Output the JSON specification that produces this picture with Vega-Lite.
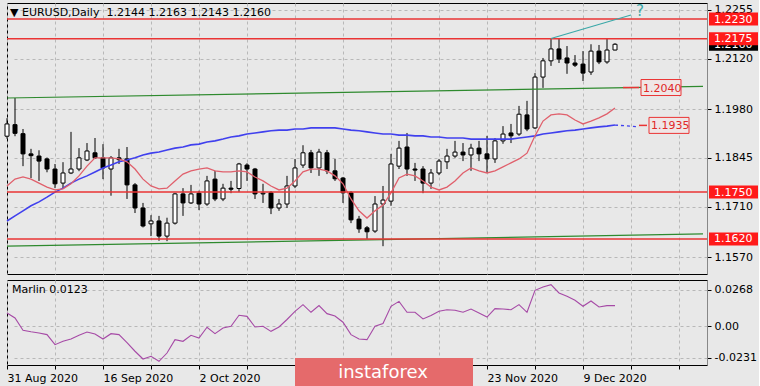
{
"$schema": "https://vega.github.io/schema/vega-lite/v6.json",
"background": "#e8e8e8",
"padding": {"left": 3, "top": 2, "right": 0, "bottom": 0},
"spacing": 4,
"datasets": {
"bars": [
{"d":"31 Aug 2020","o":1.1905,"h":1.1955,"l":1.1898,"c":1.1939,"ma":1.1767,"sma":1.1670,"mar":0.0098},
{"d":"1 Sep 2020","o":1.1937,"h":1.2011,"l":1.1905,"c":1.1913,"ma":1.1786,"sma":1.1684,"mar":0.0061},
{"d":"2 Sep 2020","o":1.1912,"h":1.1925,"l":1.1822,"c":1.1856,"ma":1.1792,"sma":1.1698,"mar":-0.0029},
{"d":"3 Sep 2020","o":1.1856,"h":1.1870,"l":1.1789,"c":1.1851,"ma":1.1786,"sma":1.1712,"mar":-0.0040},
{"d":"4 Sep 2020","o":1.1850,"h":1.1866,"l":1.1781,"c":1.1836,"ma":1.1775,"sma":1.1723,"mar":-0.0049},
{"d":"7 Sep 2020","o":1.1842,"h":1.1846,"l":1.1805,"c":1.1814,"ma":1.1764,"sma":1.1736,"mar":-0.0061},
{"d":"8 Sep 2020","o":1.1814,"h":1.1828,"l":1.1761,"c":1.1773,"ma":1.1756,"sma":1.1750,"mar":-0.0135},
{"d":"9 Sep 2020","o":1.1775,"h":1.1833,"l":1.1759,"c":1.1803,"ma":1.1759,"sma":1.1761,"mar":-0.0110},
{"d":"10 Sep 2020","o":1.1803,"h":1.1917,"l":1.1800,"c":1.1814,"ma":1.1773,"sma":1.1775,"mar":-0.0093},
{"d":"11 Sep 2020","o":1.1814,"h":1.1872,"l":1.1808,"c":1.1845,"ma":1.1795,"sma":1.1786,"mar":-0.0065},
{"d":"14 Sep 2020","o":1.1839,"h":1.1886,"l":1.1836,"c":1.1864,"ma":1.1822,"sma":1.1795,"mar":-0.0042},
{"d":"15 Sep 2020","o":1.1859,"h":1.1900,"l":1.1842,"c":1.1845,"ma":1.1845,"sma":1.1806,"mar":-0.0056},
{"d":"16 Sep 2020","o":1.1845,"h":1.1883,"l":1.1786,"c":1.1817,"ma":1.1845,"sma":1.1817,"mar":-0.0093},
{"d":"17 Sep 2020","o":1.1814,"h":1.1850,"l":1.1740,"c":1.1845,"ma":1.1845,"sma":1.1825,"mar":-0.0054},
{"d":"18 Sep 2020","o":1.1845,"h":1.1870,"l":1.1828,"c":1.1840,"ma":1.1842,"sma":1.1834,"mar":-0.0061},
{"d":"21 Sep 2020","o":1.1842,"h":1.1875,"l":1.1731,"c":1.1770,"ma":1.1834,"sma":1.1839,"mar":-0.0120},
{"d":"22 Sep 2020","o":1.1770,"h":1.1775,"l":1.1692,"c":1.1706,"ma":1.1814,"sma":1.1845,"mar":-0.0183},
{"d":"23 Sep 2020","o":1.1706,"h":1.1720,"l":1.1652,"c":1.1656,"ma":1.1786,"sma":1.1853,"mar":-0.0240},
{"d":"24 Sep 2020","o":1.1662,"h":1.1686,"l":1.1628,"c":1.1670,"ma":1.1767,"sma":1.1858,"mar":-0.0220},
{"d":"25 Sep 2020","o":1.1670,"h":1.1684,"l":1.1615,"c":1.1628,"ma":1.1759,"sma":1.1861,"mar":-0.0257},
{"d":"28 Sep 2020","o":1.1628,"h":1.1679,"l":1.1614,"c":1.1664,"ma":1.1761,"sma":1.1867,"mar":-0.0196},
{"d":"29 Sep 2020","o":1.1664,"h":1.1748,"l":1.1660,"c":1.1745,"ma":1.1781,"sma":1.1872,"mar":-0.0098},
{"d":"30 Sep 2020","o":1.1745,"h":1.1761,"l":1.1684,"c":1.1720,"ma":1.1800,"sma":1.1875,"mar":-0.0110},
{"d":"1 Oct 2020","o":1.1720,"h":1.1770,"l":1.1717,"c":1.1745,"ma":1.1809,"sma":1.1881,"mar":-0.0066},
{"d":"2 Oct 2020","o":1.1747,"h":1.1754,"l":1.1700,"c":1.1717,"ma":1.1814,"sma":1.1883,"mar":-0.0086},
{"d":"5 Oct 2020","o":1.1717,"h":1.1795,"l":1.1712,"c":1.1781,"ma":1.1817,"sma":1.1889,"mar":-0.0007},
{"d":"6 Oct 2020","o":1.1786,"h":1.1809,"l":1.1725,"c":1.1731,"ma":1.1809,"sma":1.1892,"mar":-0.0054},
{"d":"7 Oct 2020","o":1.1731,"h":1.1773,"l":1.1725,"c":1.1761,"ma":1.1806,"sma":1.1897,"mar":-0.0012},
{"d":"8 Oct 2020","o":1.1761,"h":1.1781,"l":1.1747,"c":1.1758,"ma":1.1806,"sma":1.1903,"mar":0.0000},
{"d":"9 Oct 2020","o":1.1760,"h":1.1831,"l":1.1750,"c":1.1828,"ma":1.1809,"sma":1.1906,"mar":0.0081},
{"d":"12 Oct 2020","o":1.1825,"h":1.1830,"l":1.1781,"c":1.1814,"ma":1.1806,"sma":1.1911,"mar":0.0073},
{"d":"13 Oct 2020","o":1.1814,"h":1.1817,"l":1.1731,"c":1.1745,"ma":1.1792,"sma":1.1914,"mar":-0.0005},
{"d":"14 Oct 2020","o":1.1745,"h":1.1773,"l":1.1720,"c":1.1747,"ma":1.1781,"sma":1.1917,"mar":0.0000},
{"d":"15 Oct 2020","o":1.1748,"h":1.1753,"l":1.1689,"c":1.1706,"ma":1.1767,"sma":1.1920,"mar":-0.0037},
{"d":"16 Oct 2020","o":1.1706,"h":1.1731,"l":1.1698,"c":1.1717,"ma":1.1756,"sma":1.1922,"mar":-0.0005},
{"d":"19 Oct 2020","o":1.1717,"h":1.1795,"l":1.1706,"c":1.1767,"ma":1.1761,"sma":1.1922,"mar":0.0050},
{"d":"20 Oct 2020","o":1.1767,"h":1.1842,"l":1.1761,"c":1.1817,"ma":1.1781,"sma":1.1925,"mar":0.0110},
{"d":"21 Oct 2020","o":1.1825,"h":1.1880,"l":1.1817,"c":1.1859,"ma":1.1806,"sma":1.1925,"mar":0.0159},
{"d":"22 Oct 2020","o":1.1859,"h":1.1867,"l":1.1803,"c":1.1817,"ma":1.1814,"sma":1.1928,"mar":0.0103},
{"d":"23 Oct 2020","o":1.1817,"h":1.1870,"l":1.1795,"c":1.1861,"ma":1.1814,"sma":1.1928,"mar":0.0152},
{"d":"26 Oct 2020","o":1.1859,"h":1.1867,"l":1.1800,"c":1.1809,"ma":1.1809,"sma":1.1928,"mar":0.0093},
{"d":"27 Oct 2020","o":1.1809,"h":1.1842,"l":1.1781,"c":1.1787,"ma":1.1795,"sma":1.1928,"mar":0.0075},
{"d":"28 Oct 2020","o":1.1789,"h":1.1792,"l":1.1720,"c":1.1748,"ma":1.1773,"sma":1.1925,"mar":0.0030},
{"d":"29 Oct 2020","o":1.1748,"h":1.1753,"l":1.1664,"c":1.1673,"ma":1.1731,"sma":1.1922,"mar":-0.0061},
{"d":"30 Oct 2020","o":1.1675,"h":1.1684,"l":1.1637,"c":1.1648,"ma":1.1698,"sma":1.1920,"mar":-0.0093},
{"d":"2 Nov 2020","o":1.1651,"h":1.1656,"l":1.1620,"c":1.1640,"ma":1.1678,"sma":1.1917,"mar":-0.0098},
{"d":"3 Nov 2020","o":1.1642,"h":1.1739,"l":1.1637,"c":1.1717,"ma":1.1698,"sma":1.1914,"mar":0.0000},
{"d":"4 Nov 2020","o":1.1717,"h":1.1767,"l":1.1600,"c":1.1728,"ma":1.1714,"sma":1.1911,"mar":0.0020},
{"d":"5 Nov 2020","o":1.1725,"h":1.1856,"l":1.1712,"c":1.1828,"ma":1.1748,"sma":1.1911,"mar":0.0147},
{"d":"6 Nov 2020","o":1.1822,"h":1.1892,"l":1.1814,"c":1.1872,"ma":1.1789,"sma":1.1908,"mar":0.0183},
{"d":"9 Nov 2020","o":1.1875,"h":1.1914,"l":1.1795,"c":1.1814,"ma":1.1800,"sma":1.1908,"mar":0.0103},
{"d":"10 Nov 2020","o":1.1814,"h":1.1831,"l":1.1781,"c":1.1811,"ma":1.1795,"sma":1.1906,"mar":0.0103},
{"d":"11 Nov 2020","o":1.1814,"h":1.1822,"l":1.1747,"c":1.1775,"ma":1.1781,"sma":1.1906,"mar":0.0054},
{"d":"12 Nov 2020","o":1.1775,"h":1.1814,"l":1.1759,"c":1.1803,"ma":1.1764,"sma":1.1903,"mar":0.0080},
{"d":"13 Nov 2020","o":1.1803,"h":1.1842,"l":1.1797,"c":1.1836,"ma":1.1756,"sma":1.1903,"mar":0.0110},
{"d":"16 Nov 2020","o":1.1834,"h":1.1870,"l":1.1814,"c":1.1850,"ma":1.1764,"sma":1.1900,"mar":0.0122},
{"d":"17 Nov 2020","o":1.1850,"h":1.1892,"l":1.1845,"c":1.1861,"ma":1.1781,"sma":1.1900,"mar":0.0118},
{"d":"18 Nov 2020","o":1.1861,"h":1.1886,"l":1.1836,"c":1.1853,"ma":1.1803,"sma":1.1900,"mar":0.0103},
{"d":"19 Nov 2020","o":1.1853,"h":1.1884,"l":1.1809,"c":1.1872,"ma":1.1817,"sma":1.1897,"mar":0.0127},
{"d":"20 Nov 2020","o":1.1872,"h":1.1892,"l":1.1836,"c":1.1856,"ma":1.1809,"sma":1.1897,"mar":0.0098},
{"d":"23 Nov 2020","o":1.1856,"h":1.1906,"l":1.1803,"c":1.1842,"ma":1.1803,"sma":1.1897,"mar":0.0068},
{"d":"24 Nov 2020","o":1.1842,"h":1.1900,"l":1.1831,"c":1.1892,"ma":1.1809,"sma":1.1897,"mar":0.0130},
{"d":"25 Nov 2020","o":1.1892,"h":1.1933,"l":1.1884,"c":1.1911,"ma":1.1820,"sma":1.1897,"mar":0.0127},
{"d":"26 Nov 2020","o":1.1914,"h":1.1939,"l":1.1886,"c":1.1906,"ma":1.1831,"sma":1.1897,"mar":0.0122},
{"d":"27 Nov 2020","o":1.1911,"h":1.1989,"l":1.1906,"c":1.1966,"ma":1.1842,"sma":1.1900,"mar":0.0159},
{"d":"30 Nov 2020","o":1.1964,"h":1.2003,"l":1.1919,"c":1.1925,"ma":1.1858,"sma":1.1903,"mar":0.0103},
{"d":"1 Dec 2020","o":1.1928,"h":1.2080,"l":1.1925,"c":1.2069,"ma":1.1906,"sma":1.1906,"mar":0.0264},
{"d":"2 Dec 2020","o":1.2069,"h":1.2122,"l":1.2039,"c":1.2114,"ma":1.1947,"sma":1.1911,"mar":0.0289},
{"d":"3 Dec 2020","o":1.2114,"h":1.2175,"l":1.2100,"c":1.2147,"ma":1.1964,"sma":1.1914,"mar":0.0306},
{"d":"4 Dec 2020","o":1.2147,"h":1.2175,"l":1.2108,"c":1.2119,"ma":1.1967,"sma":1.1917,"mar":0.0245},
{"d":"7 Dec 2020","o":1.2122,"h":1.2155,"l":1.2078,"c":1.2108,"ma":1.1964,"sma":1.1920,"mar":0.0220},
{"d":"8 Dec 2020","o":1.2108,"h":1.2130,"l":1.2097,"c":1.2102,"ma":1.1950,"sma":1.1922,"mar":0.0191},
{"d":"9 Dec 2020","o":1.2105,"h":1.2141,"l":1.2058,"c":1.2080,"ma":1.1939,"sma":1.1925,"mar":0.0147},
{"d":"10 Dec 2020","o":1.2083,"h":1.2160,"l":1.2075,"c":1.2141,"ma":1.1947,"sma":1.1928,"mar":0.0186},
{"d":"11 Dec 2020","o":1.2141,"h":1.2158,"l":1.2105,"c":1.2111,"ma":1.1956,"sma":1.1931,"mar":0.0142},
{"d":"14 Dec 2020","o":1.2111,"h":1.2177,"l":1.2106,"c":1.2144,"ma":1.1967,"sma":1.1933,"mar":0.0152},
{"d":"15 Dec 2020","o":1.2144,"h":1.2163,"l":1.2143,"c":1.2160,"ma":1.1983,"sma":1.1936,"mar":0.0152}
],
"levels": [{"p":1.2230},{"p":1.2175},{"p":1.1750},{"p":1.1620}],
"current": [{"p":1.2160}],
"channel": [
{"d":"31 Aug 2020","p":1.2011,"g":"upper"},{"d":"30 Dec 2020","p":1.2043,"g":"upper"},
{"d":"31 Aug 2020","p":1.1600,"g":"lower"},{"d":"30 Dec 2020","p":1.1634,"g":"lower"}
],
"teal": [{"d":"3 Dec 2020","p":1.2176},{"d":"17 Dec 2020","p":1.2241}],
"question": [{"d":"18 Dec 2020","p":1.2251,"t":"?"}],
"projection": [{"d":"15 Dec 2020","p":1.1936},{"d":"18 Dec 2020","p":1.1931}],
"targets": [
{"d0":"16 Dec 2020","d1":"18 Dec 2020","d2":"25 Dec 2020","p":1.2040},
{"d0":"18 Dec 2020","d1":"21 Dec 2020","d2":"28 Dec 2020","p":1.1935}
],
"brand": [{"t":"instaforex"}]
},
"vconcat": [
{
"width": 700, "height": 271,
"title": {"text": "▼ EURUSD,Daily\u00a0 1.2144 1.2163 1.2143 1.2160", "anchor": "start", "frame": "group", "orient": "top", "offset": -15, "dx": 3},
"data": {"name": "bars"},
"encoding": {
"x": {"field": "d", "type": "ordinal",
"scale": {"type": "point", "padding": 0, "range": [0, 696], "domain": ["31 Aug 2020","1 Sep 2020","2 Sep 2020","3 Sep 2020","4 Sep 2020","7 Sep 2020","8 Sep 2020","9 Sep 2020","10 Sep 2020","11 Sep 2020","14 Sep 2020","15 Sep 2020","16 Sep 2020","17 Sep 2020","18 Sep 2020","21 Sep 2020","22 Sep 2020","23 Sep 2020","24 Sep 2020","25 Sep 2020","28 Sep 2020","29 Sep 2020","30 Sep 2020","1 Oct 2020","2 Oct 2020","5 Oct 2020","6 Oct 2020","7 Oct 2020","8 Oct 2020","9 Oct 2020","12 Oct 2020","13 Oct 2020","14 Oct 2020","15 Oct 2020","16 Oct 2020","19 Oct 2020","20 Oct 2020","21 Oct 2020","22 Oct 2020","23 Oct 2020","26 Oct 2020","27 Oct 2020","28 Oct 2020","29 Oct 2020","30 Oct 2020","2 Nov 2020","3 Nov 2020","4 Nov 2020","5 Nov 2020","6 Nov 2020","9 Nov 2020","10 Nov 2020","11 Nov 2020","12 Nov 2020","13 Nov 2020","16 Nov 2020","17 Nov 2020","18 Nov 2020","19 Nov 2020","20 Nov 2020","23 Nov 2020","24 Nov 2020","25 Nov 2020","26 Nov 2020","27 Nov 2020","30 Nov 2020","1 Dec 2020","2 Dec 2020","3 Dec 2020","4 Dec 2020","7 Dec 2020","8 Dec 2020","9 Dec 2020","10 Dec 2020","11 Dec 2020","14 Dec 2020","15 Dec 2020","16 Dec 2020","17 Dec 2020","18 Dec 2020","21 Dec 2020","22 Dec 2020","23 Dec 2020","24 Dec 2020","25 Dec 2020","28 Dec 2020","29 Dec 2020","30 Dec 2020"]},
"axis": {"values": ["31 Aug 2020","8 Sep 2020","16 Sep 2020","24 Sep 2020","2 Oct 2020","12 Oct 2020","20 Oct 2020","28 Oct 2020","5 Nov 2020","13 Nov 2020","23 Nov 2020","1 Dec 2020","9 Dec 2020","17 Dec 2020","25 Dec 2020"], "labels": false, "ticks": false, "domain": false, "grid": true, "title": null}
},
"y": {"type": "quantitative", "scale": {"domain": [1.15229, 1.22744], "zero": false, "nice": false},
"axis": {"orient": "right", "values": [1.2255, 1.212, 1.198, 1.1845, 1.171, 1.157], "format": ".4f", "title": null, "grid": true, "tickSize": 4, "labelPadding": 3, "labelAlign": "left", "labelBaseline": "middle"}}
},
"layer": [
{"mark": {"type": "rule", "color": "#000", "strokeWidth": 1}, "encoding": {"y": {"field": "l", "type": "quantitative"}, "y2": {"field": "h"}}},
{"mark": {"type": "bar", "size": 4, "stroke": "#000", "strokeWidth": 1}, "encoding": {"y": {"field": "o", "type": "quantitative"}, "y2": {"field": "c"}, "fill": {"condition": {"test": "datum.c >= datum.o", "value": "#ffffff"}, "value": "#000000"}}},
{"mark": {"type": "line", "color": "#4040ee", "strokeWidth": 1.6}, "encoding": {"y": {"field": "sma", "type": "quantitative"}, "order": {"value": null}}},
{"mark": {"type": "line", "color": "#e0606c", "strokeWidth": 1.3}, "encoding": {"y": {"field": "ma", "type": "quantitative"}, "order": {"value": null}}},
{"data": {"name": "channel"}, "mark": {"type": "line", "color": "#2e8a2e", "strokeWidth": 1.2}, "encoding": {"y": {"field": "p", "type": "quantitative"}, "detail": {"field": "g"}, "order": {"value": null}}},
{"data": {"name": "levels"}, "mark": {"type": "rule", "color": "#ea3434", "strokeWidth": 1.5, "x2Offset": 4}, "encoding": {"x": {"datum": "31 Aug 2020", "type": "ordinal"}, "x2": {"datum": "30 Dec 2020"}, "y": {"field": "p", "type": "quantitative"}}},
{"data": {"name": "teal"}, "mark": {"type": "line", "color": "#3aa8a8", "strokeWidth": 1.2}, "encoding": {"y": {"field": "p", "type": "quantitative"}, "order": {"value": null}}},
{"data": {"name": "question"}, "mark": {"type": "text", "color": "#3aa8a8", "fontSize": 15, "align": "center", "baseline": "middle", "dx": 1}, "encoding": {"y": {"field": "p", "type": "quantitative"}, "text": {"field": "t"}}},
{"data": {"name": "projection"}, "mark": {"type": "line", "color": "#4040ee", "strokeWidth": 1.3, "strokeDash": [3, 3]}, "encoding": {"y": {"field": "p", "type": "quantitative"}, "order": {"value": null}}},
{"data": {"name": "targets"}, "mark": {"type": "rule", "color": "#ea3434", "strokeWidth": 1.5}, "encoding": {"x": {"field": "d0", "type": "ordinal"}, "x2": {"field": "d1"}, "y": {"field": "p", "type": "quantitative"}}},
{"data": {"name": "targets"}, "mark": {"type": "rect", "fill": "#efe6e6", "stroke": "#ea3434", "strokeWidth": 1, "xOffset": 2, "x2Offset": 2, "yOffset": -8, "y2Offset": 8}, "encoding": {"x": {"field": "d1", "type": "ordinal"}, "x2": {"field": "d2"}, "y": {"field": "p", "type": "quantitative"}, "y2": {"field": "p"}}},
{"data": {"name": "targets"}, "mark": {"type": "text", "color": "#e02828", "fontSize": 11, "align": "left", "baseline": "middle", "dx": 4, "dy": 1}, "encoding": {"x": {"field": "d1", "type": "ordinal"}, "y": {"field": "p", "type": "quantitative"}, "text": {"field": "p", "type": "quantitative", "format": ".4f"}}},
{"data": {"name": "current"}, "mark": {"type": "rect", "fill": "#000000", "xOffset": 6, "x2Offset": 55, "yOffset": -6.5, "y2Offset": 6.5}, "encoding": {"x": {"datum": "30 Dec 2020", "type": "ordinal"}, "x2": {"datum": "30 Dec 2020"}, "y": {"field": "p", "type": "quantitative"}, "y2": {"field": "p"}}},
{"data": {"name": "current"}, "mark": {"type": "text", "color": "#ffffff", "fontSize": 11, "align": "left", "baseline": "middle", "dx": 11, "dy": 0.5}, "encoding": {"x": {"datum": "30 Dec 2020", "type": "ordinal"}, "y": {"field": "p", "type": "quantitative"}, "text": {"field": "p", "type": "quantitative", "format": ".4f"}}},
{"data": {"name": "levels"}, "mark": {"type": "rect", "fill": "#ff1a1a", "xOffset": 6, "x2Offset": 55, "yOffset": -6.5, "y2Offset": 6.5}, "encoding": {"x": {"datum": "30 Dec 2020", "type": "ordinal"}, "x2": {"datum": "30 Dec 2020"}, "y": {"field": "p", "type": "quantitative"}, "y2": {"field": "p"}}},
{"data": {"name": "levels"}, "mark": {"type": "text", "color": "#ffffff", "fontSize": 11, "align": "left", "baseline": "middle", "dx": 11, "dy": 0.5}, "encoding": {"x": {"datum": "30 Dec 2020", "type": "ordinal"}, "y": {"field": "p", "type": "quantitative"}, "text": {"field": "p", "type": "quantitative", "format": ".4f"}}}
]
},
{
"width": 700, "height": 85,
"title": {"text": "Marlin 0.0123", "anchor": "start", "frame": "group", "orient": "top", "offset": -15, "dx": 5},
"data": {"name": "bars"},
"encoding": {
"x": {"field": "d", "type": "ordinal",
"scale": {"type": "point", "padding": 0, "range": [0, 696], "domain": ["31 Aug 2020","1 Sep 2020","2 Sep 2020","3 Sep 2020","4 Sep 2020","7 Sep 2020","8 Sep 2020","9 Sep 2020","10 Sep 2020","11 Sep 2020","14 Sep 2020","15 Sep 2020","16 Sep 2020","17 Sep 2020","18 Sep 2020","21 Sep 2020","22 Sep 2020","23 Sep 2020","24 Sep 2020","25 Sep 2020","28 Sep 2020","29 Sep 2020","30 Sep 2020","1 Oct 2020","2 Oct 2020","5 Oct 2020","6 Oct 2020","7 Oct 2020","8 Oct 2020","9 Oct 2020","12 Oct 2020","13 Oct 2020","14 Oct 2020","15 Oct 2020","16 Oct 2020","19 Oct 2020","20 Oct 2020","21 Oct 2020","22 Oct 2020","23 Oct 2020","26 Oct 2020","27 Oct 2020","28 Oct 2020","29 Oct 2020","30 Oct 2020","2 Nov 2020","3 Nov 2020","4 Nov 2020","5 Nov 2020","6 Nov 2020","9 Nov 2020","10 Nov 2020","11 Nov 2020","12 Nov 2020","13 Nov 2020","16 Nov 2020","17 Nov 2020","18 Nov 2020","19 Nov 2020","20 Nov 2020","23 Nov 2020","24 Nov 2020","25 Nov 2020","26 Nov 2020","27 Nov 2020","30 Nov 2020","1 Dec 2020","2 Dec 2020","3 Dec 2020","4 Dec 2020","7 Dec 2020","8 Dec 2020","9 Dec 2020","10 Dec 2020","11 Dec 2020","14 Dec 2020","15 Dec 2020","16 Dec 2020","17 Dec 2020","18 Dec 2020","21 Dec 2020","22 Dec 2020","23 Dec 2020","24 Dec 2020","25 Dec 2020","28 Dec 2020","29 Dec 2020","30 Dec 2020"]},
"axis": {"values": ["31 Aug 2020","8 Sep 2020","16 Sep 2020","24 Sep 2020","2 Oct 2020","12 Oct 2020","20 Oct 2020","28 Oct 2020","5 Nov 2020","13 Nov 2020","23 Nov 2020","1 Dec 2020","9 Dec 2020","17 Dec 2020","25 Dec 2020"],
"labelExpr": "indexof(['31 Aug 2020','16 Sep 2020','2 Oct 2020','20 Oct 2020','5 Nov 2020','23 Nov 2020','9 Dec 2020'], datum.value) >= 0 ? datum.value : ''",
"labelAngle": 0, "labelAlign": "left", "labelBaseline": "top", "labelOverlap": false, "labelBound": false, "labelFlush": false, "tickSize": 4, "labelPadding": 3, "domain": false, "grid": true, "title": null}
},
"y": {"type": "quantitative", "scale": {"domain": [-0.0284, 0.034], "zero": false, "nice": false},
"axis": {"orient": "right", "values": [0.0268, 0, -0.0231], "labelExpr": "datum.value == 0 ? '0.00' : replace(format(datum.value, '.4f'), '\u2212', '-')", "title": null, "grid": true, "tickSize": 4, "labelPadding": 3, "labelAlign": "left", "labelBaseline": "middle"}}
},
"layer": [
{"mark": {"type": "line", "color": "#a64aa6", "strokeWidth": 1.1}, "encoding": {"y": {"field": "mar", "type": "quantitative"}, "order": {"value": null}}},
{"data": {"name": "brand"}, "mark": {"type": "rect", "fill": "#e56a6b", "x2Offset": 2}, "encoding": {"x": {"datum": "20 Oct 2020", "type": "ordinal"}, "x2": {"datum": "19 Nov 2020"}, "y": {"datum": -0.0233, "type": "quantitative"}, "y2": {"datum": -0.047}}},
{"data": {"name": "brand"}, "mark": {"type": "text", "color": "#ffffff", "fontSize": 18, "align": "center", "baseline": "middle"}, "encoding": {"x": {"datum": "4 Nov 2020", "type": "ordinal"}, "y": {"datum": -0.0345, "type": "quantitative"}, "text": {"field": "t"}}}
]
}
],
"config": {
"view": {"stroke": "#000000", "strokeWidth": 1, "fill": "#e8e8e8"},
"axis": {"labelFont": "DejaVu Sans", "labelFontSize": 11, "labelColor": "#000000", "tickColor": "#000000", "gridColor": "#b8b8b8", "gridDash": [3, 3], "gridOpacity": 1, "gridWidth": 1},
"title": {"font": "DejaVu Sans", "fontSize": 11, "fontWeight": "normal", "color": "#000000"},
"text": {"font": "DejaVu Sans"}
}
}
